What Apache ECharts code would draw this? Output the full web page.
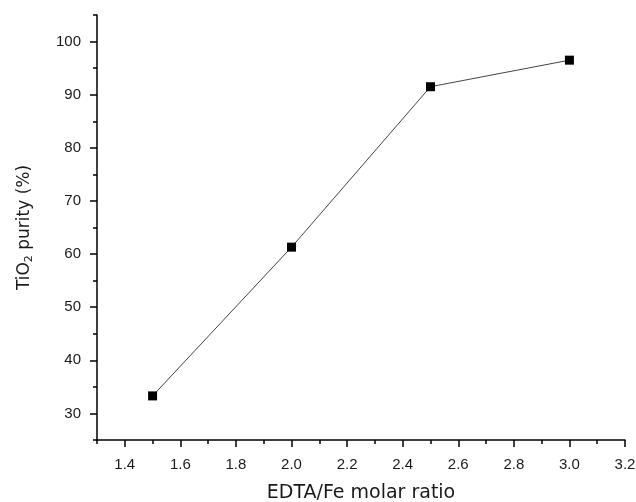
<!DOCTYPE html>
<html>
<head>
<meta charset="utf-8">
<script src="https://cdn.jsdelivr.net/npm/echarts@6/dist/echarts.min.js"></script>
<style>html,body{margin:0;padding:0;background:#fff}#c{width:636px;height:502px}</style>
</head>
<body>
<div id="c"></div>
<script>
var ratios = [1.5, 2.0, 2.5, 3.0];
var purity = [33.3, 61.3, 91.5, 96.5];
var xMajor = [1.4, 1.6, 1.8, 2.0, 2.2, 2.4, 2.6, 2.8, 3.0, 3.2];
var xMinor = [1.3, 1.5, 1.7, 1.9, 2.1, 2.3, 2.5, 2.7, 2.9, 3.1];
var yMajor = [30, 40, 50, 60, 70, 80, 90, 100];
var yMinor = [25, 35, 45, 55, 65, 75, 85, 95, 105];
var xName = 'EDTA/Fe molar ratio';

var chart = echarts.init(document.getElementById('c'));
var labelFont = {fontFamily: "'Liberation Sans', Arial, sans-serif", fontSize: 15, color: '#1a1a1a'};
var axisLine = {show: true, onZero: false, lineStyle: {color: '#000', width: 1.5}};
chart.setOption({
  animation: false,
  backgroundColor: '#fff',
  grid: {left: 97, right: 11, top: 15, bottom: 62, containLabel: false, outerBoundsMode: 'none'},
  xAxis: [{
    type: 'value', min: 1.3, max: 3.2, position: 'bottom',
    axisLine: axisLine,
    splitLine: {show: false},
    axisTick: {show: true, customValues: xMajor, length: 7, lineStyle: {color: '#000', width: 1.5}},
    axisLabel: Object.assign({customValues: xMajor, margin: 17, formatter: function (v) { return v.toFixed(1); }}, labelFont),
    name: xName, nameLocation: 'middle', nameGap: 44,
    nameTextStyle: {fontFamily: "'DejaVu Sans', sans-serif", fontSize: 19, color: '#1a1a1a'}
  }, {
    type: 'value', min: 1.3, max: 3.2, position: 'bottom',
    axisLine: {show: false},
    splitLine: {show: false},
    axisTick: {show: true, customValues: xMinor, length: 4, lineStyle: {color: '#000', width: 1.5}},
    axisLabel: {show: false}
  }],
  yAxis: [{
    type: 'value', min: 25, max: 105, position: 'left',
    axisLine: axisLine,
    splitLine: {show: false},
    axisTick: {show: true, customValues: yMajor, length: 7, lineStyle: {color: '#000', width: 1.5}},
    axisLabel: Object.assign({customValues: yMajor, margin: 16}, labelFont),
    name: '{a|TiO}{s|2}{a| purity (%)}', nameLocation: 'middle', nameGap: 62, nameRotate: 90,
    nameTextStyle: {
      rich: {
        a: {fontFamily: "'DejaVu Sans', sans-serif", fontSize: 17, color: '#1a1a1a'},
        s: {fontFamily: "'DejaVu Sans', sans-serif", fontSize: 11, color: '#1a1a1a', verticalAlign: 'bottom', padding: [9, 0, 0, 0]}
      }
    }
  }, {
    type: 'value', min: 25, max: 105, position: 'left',
    axisLine: {show: false},
    splitLine: {show: false},
    axisTick: {show: true, customValues: yMinor, length: 4, lineStyle: {color: '#000', width: 1.5}},
    axisLabel: {show: false}
  }],
  series: [{
    type: 'line',
    xAxisIndex: 0, yAxisIndex: 0,
    data: ratios.map(function (r, i) { return [r, purity[i]]; }),
    symbol: 'rect', symbolSize: 9,
    itemStyle: {color: '#000'},
    lineStyle: {color: '#444', width: 1}
  }]
});
</script>
</body>
</html>
